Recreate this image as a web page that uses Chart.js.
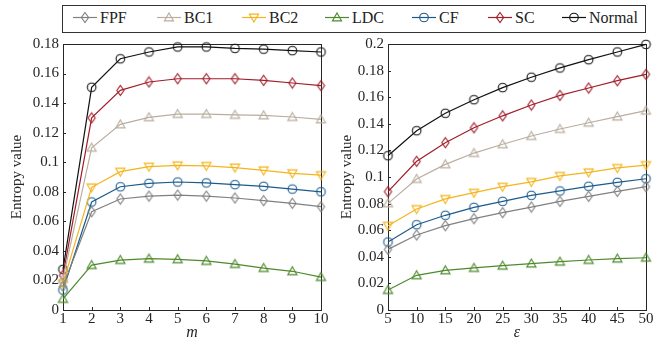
<!DOCTYPE html>
<html lang="en">
<head>
  <meta charset="UTF-8">
  <title>Entropy value vs m and epsilon</title>
  <style>
    body {
      margin: 0;
      width: 657px;
      height: 338px;
      position: relative;
      overflow: hidden;
      background: #fff;
      font-family: "Liberation Serif", "Times New Roman", Times, serif;
    }

    #legend {
      position: absolute;
      left: 62px;
      top: 5px;
      width: 584px;
      height: 28px;
      border: 1px solid #333;
      box-sizing: border-box;
      z-index: 2;
      background: #fff;
    }

    .item {
      position: absolute;
      top: 0;
      height: 23px;
      width: max-content;
      white-space: nowrap;
      display: flex;
      align-items: center;
      font-size: 16px;
      color: #222;
    }

    .item canvas { margin-right: 3px; flex-shrink: 0; }

    #leftWrap, #rightWrap {
      position: absolute;
      top: 0;
      height: 338px;
    }
    #leftWrap { left: 0; width: 330px; }
    #rightWrap { left: 330px; width: 327px; }
  </style>
</head>
<body>

  <div id="legend"></div>
  <div id="leftWrap"><canvas id="leftChart"></canvas></div>
  <div id="rightWrap"><canvas id="rightChart"></canvas></div>

  <script src="https://cdn.jsdelivr.net/npm/chart.js"></script>
  <script>
    // x values
    const mValues = [1, 2, 3, 4, 5, 6, 7, 8, 9, 10];
    const epsValues = [5, 10, 15, 20, 25, 30, 35, 40, 45, 50];

    const seriesNames = ['FPF', 'BC1', 'BC2', 'LDC', 'CF', 'SC', 'Normal'];

    // left panel: entropy vs m
    const fpfM    = [0.016, 0.0665, 0.0751, 0.0771, 0.0778, 0.0771, 0.0758, 0.0740, 0.0722, 0.0699];
    const bc1M    = [0.021, 0.1098, 0.1256, 0.1304, 0.1326, 0.1326, 0.1320, 0.1317, 0.1306, 0.1290];
    const bc2M    = [0.018, 0.0830, 0.0936, 0.0970, 0.0979, 0.0975, 0.0964, 0.0945, 0.0925, 0.0913];
    const ldcM    = [0.0075, 0.0304, 0.0338, 0.0347, 0.0343, 0.0332, 0.0311, 0.0284, 0.0262, 0.0223];
    const cfM     = [0.0135, 0.0731, 0.0834, 0.0857, 0.0866, 0.0860, 0.0848, 0.0837, 0.0818, 0.0800];
    const scM     = [0.0235, 0.1300, 0.1486, 0.1543, 0.1565, 0.1565, 0.1565, 0.1554, 0.1536, 0.1518];
    const normalM = [0.0275, 0.1507, 0.1700, 0.1746, 0.1780, 0.1780, 0.1770, 0.1765, 0.1755, 0.1746];

    // right panel: entropy vs epsilon
    const fpfE    = [0.0456, 0.0564, 0.0634, 0.0687, 0.0732, 0.0774, 0.0817, 0.0855, 0.0892, 0.0927];
    const bc1E    = [0.0802, 0.0985, 0.1095, 0.1180, 0.1246, 0.1308, 0.1361, 0.1408, 0.1454, 0.1499];
    const bc2E    = [0.0634, 0.0759, 0.0835, 0.0882, 0.0927, 0.0963, 0.1008, 0.1035, 0.1068, 0.1090];
    const ldcE    = [0.0150, 0.0261, 0.0298, 0.0316, 0.0333, 0.0349, 0.0363, 0.0376, 0.0386, 0.0393];
    const cfE     = [0.0511, 0.0641, 0.0712, 0.0772, 0.0817, 0.0862, 0.0895, 0.0930, 0.0960, 0.0987];
    const scE     = [0.0890, 0.1118, 0.1258, 0.1370, 0.1460, 0.1541, 0.1614, 0.1669, 0.1724, 0.1772];
    const normalE = [0.1160, 0.1348, 0.1479, 0.1581, 0.1672, 0.1750, 0.1820, 0.1882, 0.1940, 0.1997];

    // styling per series (same order as seriesNames)
    const colors = ['#808080', '#b9ae9f', '#f4b41c', '#4e8a2c', '#1b5b8c', '#a11d2a', '#111111'];
    const shapes = ['diamond', 'triangle', 'triangleDown', 'triangle', 'circle', 'diamond', 'circle'];

    const FONT = '"Liberation Serif", "Times New Roman", Times, serif';

    // draw a hollow marker onto ctx centred at (cx, cy)
    function drawShape(ctx, shape, cx, cy) {
      ctx.beginPath();
      if (shape === 'circle') {
        ctx.arc(cx, cy, 4.3, 0, Math.PI * 2);
      } else if (shape === 'diamond') {
        ctx.moveTo(cx, cy - 5);
        ctx.lineTo(cx + 3.6, cy);
        ctx.lineTo(cx, cy + 5);
        ctx.lineTo(cx - 3.6, cy);
        ctx.closePath();
      } else if (shape === 'triangle') {
        ctx.moveTo(cx, cy - 4.6);
        ctx.lineTo(cx + 4.6, cy + 3.4);
        ctx.lineTo(cx - 4.6, cy + 3.4);
        ctx.closePath();
      } else {
        ctx.moveTo(cx, cy + 4.6);
        ctx.lineTo(cx + 4.6, cy - 3.4);
        ctx.lineTo(cx - 4.6, cy - 3.4);
        ctx.closePath();
      }
      ctx.stroke();
    }

    function makeMarker(shape, color) {
      const c = document.createElement('canvas');
      c.width = 13;
      c.height = 13;
      const ctx = c.getContext('2d');
      ctx.strokeStyle = color;
      ctx.lineWidth = 1.1;
      drawShape(ctx, shape, 6.5, 6.5);
      return c;
    }

    const markers = shapes.map((s, i) => makeMarker(s, colors[i]));

    // inward ticks and full box, as in the original figure
    const boxAndTicks = {
      id: 'boxAndTicks',
      beforeDatasetsDraw(chart) {
        const { ctx, chartArea: a, scales: { x, y } } = chart;
        ctx.save();
        ctx.strokeStyle = '#262626';
        ctx.lineWidth = 1;
        ctx.beginPath();
        x.ticks.forEach(t => {
          const px = Math.round(x.getPixelForValue(t.value)) + 0.5;
          ctx.moveTo(px, a.bottom);
          ctx.lineTo(px, a.bottom - 3);
        });
        y.ticks.forEach(t => {
          const py = Math.round(y.getPixelForValue(t.value)) + 0.5;
          ctx.moveTo(a.left, py);
          ctx.lineTo(a.left + 3, py);
        });
        ctx.stroke();
        ctx.strokeRect(Math.round(a.left) + 0.5, Math.round(a.top) + 0.5,
          Math.round(a.right - a.left), Math.round(a.bottom - a.top));
        ctx.restore();
      }
    };

    function buildDatasets(xs, seriesList) {
      return seriesList.map((vals, i) => ({
        label: seriesNames[i],
        data: xs.map((x, j) => ({ x: x, y: vals[j] })),
        borderColor: colors[i],
        borderWidth: 1.2,
        pointStyle: markers[i],
        pointRadius: 5,
        clip: false,
        fill: false,
        tension: 0
      }));
    }

    function fmt(v) {
      return String(Number(v.toFixed(2)));
    }

    function makeChart(id, xs, seriesList, xOpts, yMax, yAxisWidth, rightPad, xTitle) {
      return new Chart(document.getElementById(id), {
        type: 'line',
        data: { datasets: buildDatasets(xs, seriesList) },
        plugins: [boxAndTicks],
        options: {
          responsive: true,
          maintainAspectRatio: false,
          animation: false,
          events: [],
          layout: { padding: { top: 44, right: rightPad, left: 0, bottom: 0 } },
          plugins: { legend: { display: false }, tooltip: { enabled: false } },
          scales: {
            x: {
              type: 'linear',
              min: xOpts.min,
              max: xOpts.max,
              grid: { display: false, drawTicks: false },
              border: { display: false },
              ticks: {
                stepSize: xOpts.step,
                padding: 0,
                color: '#262626',
                font: { family: FONT, size: 15 },
                maxRotation: 0
              },
              title: {
                display: true,
                text: xTitle,
                color: '#262626',
                padding: { top: 0, bottom: 0 },
                font: { family: FONT, size: 16, style: 'italic', lineHeight: 0.6 }
              },
              afterFit(scale) { scale.height = 28; }
            },
            y: {
              min: 0,
              max: yMax,
              grid: { display: false, drawTicks: false },
              border: { display: false },
              ticks: {
                stepSize: 0.02,
                padding: 4,
                color: '#262626',
                font: { family: FONT, size: 15 },
                callback: v => fmt(v)
              },
              title: {
                display: true,
                text: 'Entropy value',
                color: '#262626',
                padding: { top: 8, bottom: 0 },
                font: { family: FONT, size: 15 }
              },
              afterFit(scale) { scale.width = yAxisWidth; }
            }
          }
        }
      });
    }

    makeChart('leftChart', mValues,
      [fpfM, bc1M, bc2M, ldcM, cfM, scM, normalM],
      { min: 1, max: 10, step: 1 }, 0.18, 63, 9, 'm');

    makeChart('rightChart', epsValues,
      [fpfE, bc1E, bc2E, ldcE, cfE, scE, normalE],
      { min: 5, max: 50, step: 5 }, 0.2, 58, 11, 'ε');

    // legend across the top
    const legendLeft = [10, 94, 179, 262, 349, 425, 499];
    const legend = document.getElementById('legend');
    seriesNames.forEach((name, i) => {
      const item = document.createElement('div');
      item.className = 'item';
      item.style.left = legendLeft[i] + 'px';
      const c = document.createElement('canvas');
      c.width = 24;
      c.height = 13;
      const ctx = c.getContext('2d');
      ctx.strokeStyle = colors[i];
      ctx.lineWidth = 1.2;
      ctx.beginPath();
      ctx.moveTo(0, 6.5);
      ctx.lineTo(24, 6.5);
      ctx.stroke();
      ctx.lineWidth = 1.1;
      drawShape(ctx, shapes[i], 12, 6.5);
      const span = document.createElement('span');
      span.textContent = name;
      item.appendChild(c);
      item.appendChild(span);
      legend.appendChild(item);
    });
  </script>
</body>
</html>
